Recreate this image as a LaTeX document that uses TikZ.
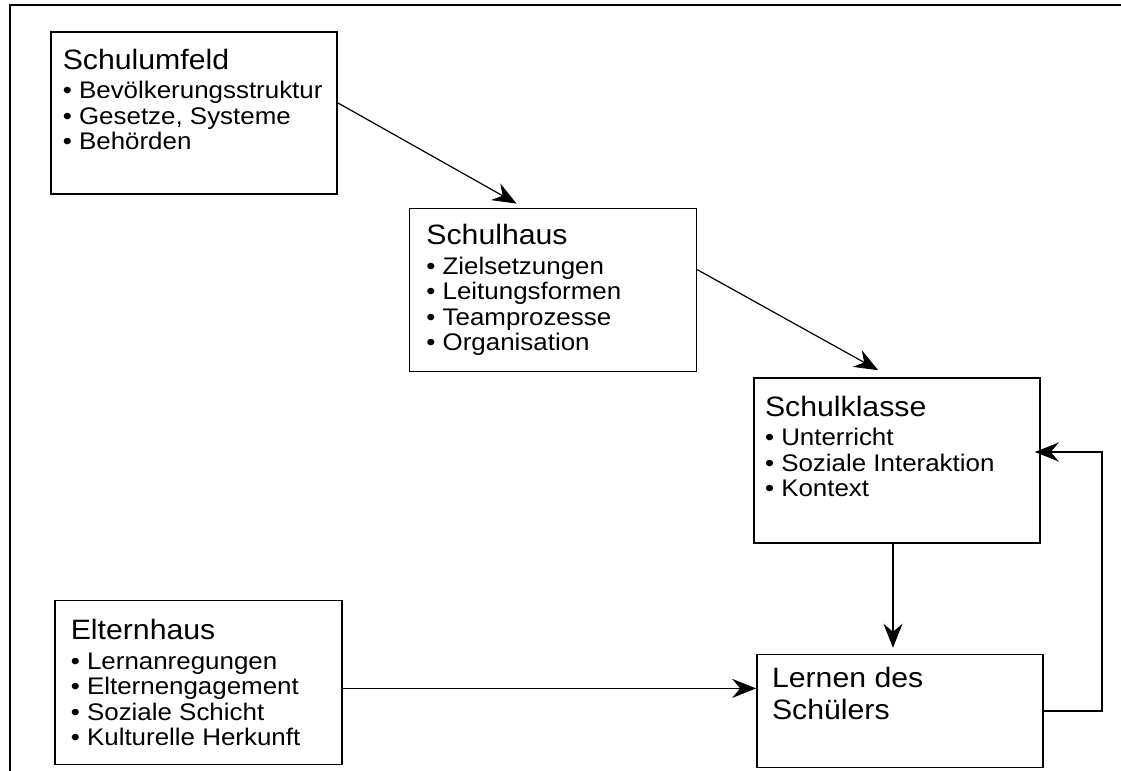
\documentclass[tikz,border=0pt]{standalone}
\usepackage{fontspec}
\setmainfont{Liberation Sans}[FakeStretch=1.08]
\usetikzlibrary{positioning,arrows.meta}
\newcommand{\titel}[1]{{\fontsize{14pt}{16pt}\selectfont #1\par}\vspace{2pt}}
\newcommand{\punkt}[1]{\textbullet\ #1\par}
\newcommand{\feldtext}[3]{\parbox[t][#2][t]{#1}{\raggedright\fontsize{12pt}{12.75pt}\selectfont #3}}

\begin{document}
\begin{tikzpicture}[x=0.5pt, y=-0.5pt,
    feld/.style={draw, line width=0.8pt, inner xsep=6pt, inner ysep=8.5pt},
    pfeil/.style={-{Stealth[length=12pt, width=9.5pt, inset=4pt]}, line width=0.6pt}]
    \useasboundingbox (0,0) rectangle (1121,771);
    % frame
    \draw[line width=0.8pt] (10,771) -- (10,5) -- (1121,5);

    % boxes
    \node[feld, anchor=north west] (schulumfeld) at (50,31)
        {\feldtext{131pt}{64pt}{\titel{Schulumfeld}\punkt{Bevölkerungsstruktur}\punkt{Gesetze, Systeme}\punkt{Behörden}}};
    \node[feld, below right=6.5pt and 35.5pt of schulumfeld, inner xsep=8.5pt, inner ysep=8pt] (schulhaus)
        {\feldtext{126.5pt}{65.5pt}{\titel{Schulhaus}\punkt{Zielsetzungen}\punkt{Leitungsformen}\punkt{Teamprozesse}\punkt{Organisation}}};
    \node[feld, below right=2.5pt and 28pt of schulhaus, inner xsep=5.5pt, inner ysep=9pt] (schulklasse)
        {\feldtext{132pt}{64.5pt}{\titel{Schulklasse}\punkt{Unterricht}\punkt{Soziale Interaktion}\punkt{Kontext}}};
    \node[feld, below=55pt of schulklasse, xshift=1.5pt, inner xsep=7.5pt, inner ysep=6.5pt] (lernen)
        {\feldtext{128pt}{43.5pt}{\titel{Lernen des\\Schülers}}};
    \node[feld, below=202.5pt of schulumfeld, xshift=2.25pt, inner xsep=8pt, inner ysep=9.5pt] (elternhaus)
        {\feldtext{127.5pt}{63pt}{\titel{Elternhaus}\punkt{Lernanregungen}\punkt{Elternengagement}\punkt{Soziale Schicht}\punkt{Kulturelle Herkunft}}};

    % arrows
    \coordinate (k1) at ([xshift=-2pt]schulklasse.south);
    \coordinate (k2) at ([yshift=3pt]lernen.north);
    \coordinate (e1) at ([yshift=-3pt]elternhaus.east);
    \draw[pfeil] (schulumfeld.4) -- ([xshift=54pt, yshift=2pt]schulhaus.north west);
    \draw[pfeil] (schulhaus.8) -- ([xshift=62.5pt, yshift=3.5pt]schulklasse.north west);
    \draw[pfeil, line width=0.8pt] (k1) -- (k1 |- k2);
    \draw[pfeil, line width=0.8pt] (e1) -- (e1 -| lernen.west);
    \draw[pfeil, line width=0.8pt] (lernen.east) -- ++(58,0) |- ([xshift=-3pt, yshift=4.25pt]schulklasse.east);
\end{tikzpicture}
\end{document}
